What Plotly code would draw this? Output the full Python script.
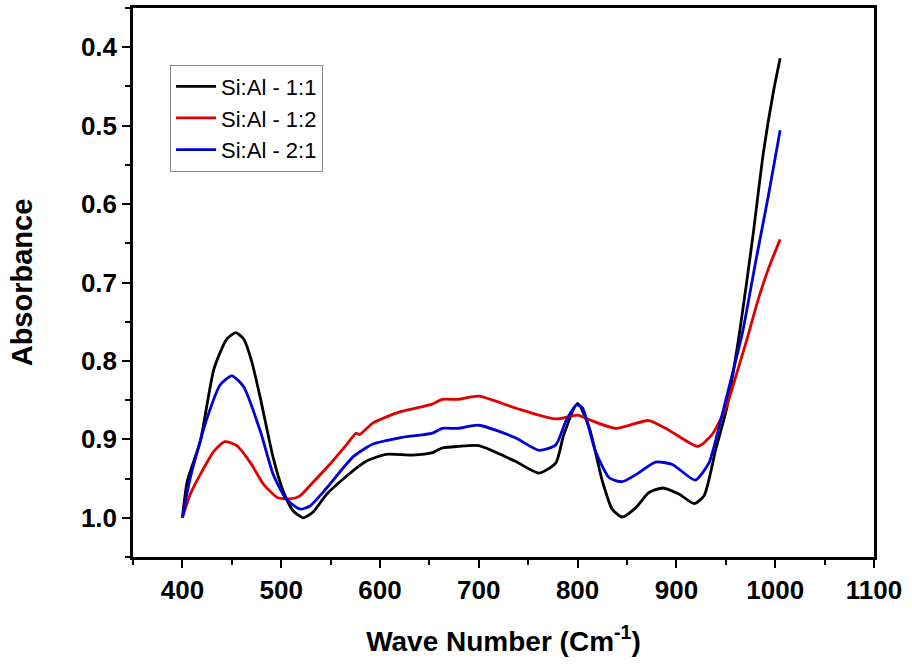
import plotly.graph_objects as go

# Si:Al - 1:1 (black)
x_11 = [400, 405, 418, 432, 445, 454, 462, 470, 479, 492, 502, 512, 522, 532, 546, 566, 586, 606, 633, 653, 663, 679,
        700, 737, 761, 778, 786, 800, 812, 825, 835, 845, 859, 872, 886, 903, 918, 928, 940, 951, 964, 977, 988, 998, 1005]
y_11 = [1.0, 0.953, 0.903, 0.81, 0.772, 0.764, 0.772, 0.80, 0.848, 0.924, 0.966, 0.991, 1.0, 0.993, 0.970, 0.947, 0.928, 0.919, 0.92, 0.917, 0.911, 0.909,
        0.908, 0.928, 0.943, 0.93, 0.894, 0.854, 0.886, 0.953, 0.989, 0.999, 0.987, 0.968, 0.962, 0.970, 0.982, 0.972, 0.912, 0.86, 0.763, 0.645, 0.535, 0.458, 0.414]

# Si:Al - 1:2 (red)
x_12 = [400, 408, 418, 432, 443, 455, 469, 482, 496, 509, 519, 532, 549, 566, 576, 579, 593, 620, 653, 663, 679,
        700, 737, 778, 800, 812, 839, 872, 892, 922, 936, 950, 962, 972, 982, 993, 1005]
y_12 = [1.0, 0.97, 0.945, 0.915, 0.903, 0.908, 0.930, 0.957, 0.974, 0.976, 0.972, 0.955, 0.932, 0.907, 0.892, 0.894, 0.879, 0.865, 0.855, 0.849, 0.849,
        0.845, 0.86, 0.874, 0.869, 0.875, 0.886, 0.876, 0.888, 0.909, 0.894, 0.86, 0.812, 0.77, 0.725, 0.683, 0.645]

# Si:Al - 2:1 (blue)
x_21 = [400, 408, 425, 438, 450, 462, 479, 492, 505, 519, 529, 546, 573, 593, 620, 653, 663, 679,
        700, 737, 761, 778, 788, 799, 805, 818, 832, 845, 859, 879, 896, 919, 933, 942, 952, 967, 980, 993, 1005]
y_21 = [1.0, 0.949, 0.873, 0.831, 0.819, 0.833, 0.890, 0.945, 0.976, 0.989, 0.985, 0.962, 0.922, 0.906, 0.898, 0.892, 0.886, 0.886,
        0.882, 0.898, 0.914, 0.907, 0.877, 0.856, 0.86, 0.915, 0.949, 0.954, 0.945, 0.929, 0.932, 0.952, 0.93, 0.89, 0.84, 0.763, 0.675, 0.59, 0.506]

series = [
    ("Si:Al - 1:1", x_11, y_11, "#000000"),
    ("Si:Al - 1:2", x_12, y_12, "#e00000"),
    ("Si:Al - 2:1", x_21, y_21, "#0000d8"),
]

fig = go.Figure()
for i, (name, xs, ys, col) in enumerate(series):
    fig.add_trace(go.Scatter(x=xs, y=ys, mode="lines", name=name, legendgroup=f"g{i}",
                             line=dict(color=col, width=2.8, shape="spline", smoothing=0.6)))

axis_common = dict(
    showline=True, linecolor="black", linewidth=2.5, mirror=True,
    showgrid=False, zeroline=False,
    ticks="outside", ticklen=8, tickwidth=2, tickcolor="black",
    tickfont=dict(family="Arial", size=26, color="black", weight="bold"),
)

fig.update_layout(
    width=912, height=668,
    margin=dict(l=133, r=38, t=5, b=111),
    paper_bgcolor="white", plot_bgcolor="white",
    xaxis=dict(range=[350, 1100], dtick=100, tick0=400,
               minor=dict(dtick=50, ticklen=5, tickwidth=2, tickcolor="black", ticks="outside"),
               title=dict(text="Wave Number (Cm<sup>-1</sup>)", standoff=28,
                          font=dict(family="Arial", size=28, color="black", weight="bold")),
               **axis_common),
    yaxis=dict(range=[1.05, 0.35], dtick=0.1, tick0=0.4, tickformat=".1f",
               minor=dict(dtick=0.05, ticklen=5, tickwidth=2, tickcolor="black", ticks="outside"),
               title=dict(text="Absorbance", standoff=40,
                          font=dict(family="Arial", size=29, color="black", weight="bold")),
               **axis_common),
    legend=dict(x=0.05, y=0.897, xanchor="left", yanchor="top",
                bordercolor="#888888", borderwidth=1, bgcolor="white",
                font=dict(family="Arial", size=22, color="black"),
                traceorder="grouped", tracegroupgap=0, itemwidth=40,
                entrywidth=180, entrywidthmode="pixels"),
    showlegend=True,
)

fig.write_html("out.html")
